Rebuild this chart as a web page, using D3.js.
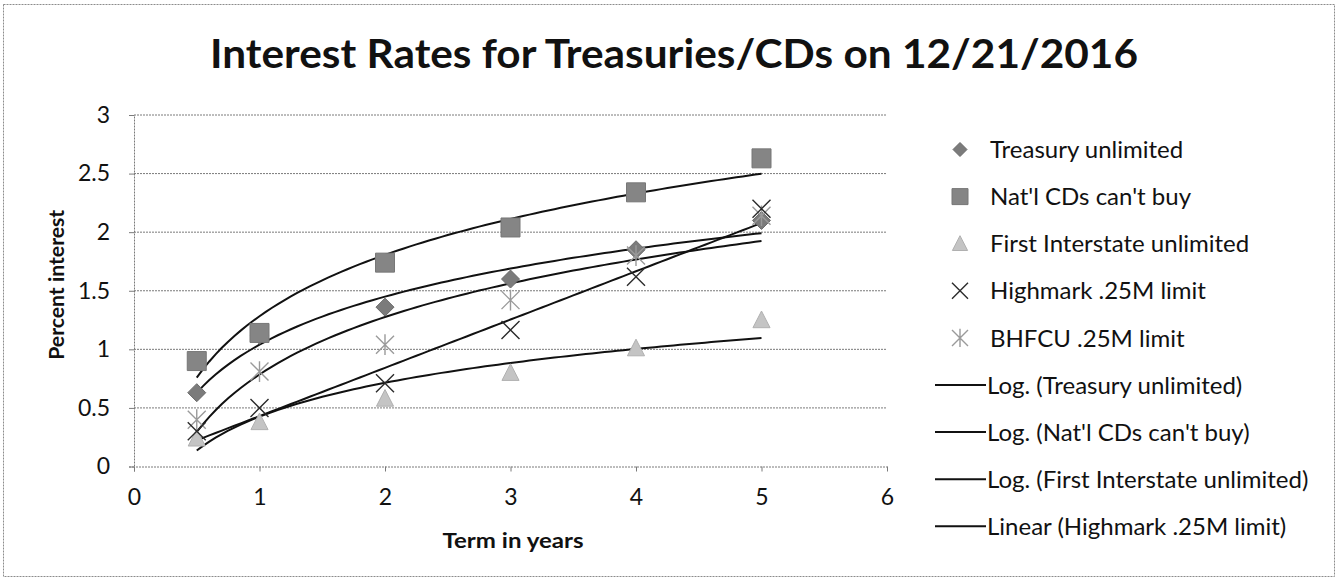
<!DOCTYPE html>
<html>
<head>
<meta charset="utf-8">
<script src="https://cdn.jsdelivr.net/npm/d3@7"></script>
<style>
  html, body { margin: 0; padding: 0; background: #fff; }
  svg { display: block; font-family: Lato, "Open Sans", sans-serif; }
</style>
</head>
<body>
<svg id="chart" width="1338" height="586"></svg>
<script>
// Term (years) and quoted rates (percent) for each product
const terms = [0.5, 1, 2, 3, 4, 5];
const treasuryUnlimited = [0.63, 1.12, 1.36, 1.60, 1.85, 2.10];
const natlCDs = [0.90, 1.14, 1.74, 2.04, 2.34, 2.63];
const firstInterstate = [0.24, 0.38, 0.58, 0.80, 1.01, 1.25];
const highmark = [0.30, 0.50, 0.71, 1.165, 1.62, 2.20];
const bhfcu = [0.40, 0.81, 1.04, 1.42, 1.80, 2.14];

const xTicks = [0, 1, 2, 3, 4, 5, 6];
const yTicks = [0, 0.5, 1, 1.5, 2, 2.5, 3];

const seriesNames = [
  "Treasury unlimited",
  "Nat'l CDs can't buy",
  "First Interstate unlimited",
  "Highmark .25M limit",
  "BHFCU .25M limit"
];
const trendLabels = [
  "Log. (Treasury unlimited)",
  "Log. (Nat'l CDs can't buy)",
  "Log. (First Interstate unlimited)",
  "Linear (Highmark .25M limit)"
];

const svg = d3.select("#chart");
const W = 1338, H = 586;
const plot = { left: 134, right: 887, top: 115, bottom: 466.5 };

const x = d3.scaleLinear().domain([0, 6]).range([plot.left, plot.right]);
const y = d3.scaleLinear().domain([0, 3]).range([plot.bottom, plot.top]);

// Outer chart border
svg.append("rect")
  .attr("x", 3.5).attr("y", 4.5).attr("width", W - 7).attr("height", H - 14)
  .attr("fill", "none").attr("stroke", "#8c8c8c").attr("stroke-width", 1)
  .attr("stroke-dasharray", "2,1");

// Title
svg.append("text")
  .attr("x", 674).attr("y", 68)
  .attr("text-anchor", "middle")
  .attr("font-size", 40).attr("font-weight", "bold")
  .attr("textLength", 928).attr("lengthAdjust", "spacingAndGlyphs")
  .attr("fill", "#111")
  .text("Interest Rates for Treasuries/CDs on 12/21/2016");

// Horizontal gridlines
svg.append("g").selectAll("line")
  .data(yTicks.filter(d => d > 0))
  .join("line")
  .attr("x1", plot.left).attr("x2", plot.right)
  .attr("y1", d => y(d)).attr("y2", d => y(d))
  .attr("stroke", "#7a7a7a").attr("stroke-width", 1)
  .attr("stroke-dasharray", "2,1");

// Axes
const xAxis = svg.append("g")
  .attr("transform", `translate(0,${plot.bottom})`)
  .call(d3.axisBottom(x).tickValues(xTicks).tickSize(5).tickPadding(17).tickFormat(d3.format("d")));
const yAxis = svg.append("g")
  .attr("transform", `translate(${plot.left},0)`)
  .call(d3.axisLeft(y).tickValues(yTicks).tickSize(5).tickPadding(19).tickFormat(d => String(d)));

[xAxis, yAxis].forEach(a => {
  a.select(".domain").attr("stroke", "#7a7a7a").attr("stroke-dasharray", "2,1");
  a.selectAll(".tick line").attr("stroke", "#7a7a7a");
  a.selectAll(".tick text")
    .attr("font-family", "Lato, 'Open Sans', sans-serif")
    .attr("font-size", 23).attr("fill", "#111");
});

// Axis titles
svg.append("text")
  .attr("x", 513).attr("y", 548)
  .attr("text-anchor", "middle").attr("font-size", 21).attr("font-weight", "bold")
  .attr("textLength", 141).attr("lengthAdjust", "spacingAndGlyphs")
  .attr("fill", "#111").text("Term in years");
svg.append("text")
  .attr("transform", `translate(64,${(plot.top + plot.bottom) / 2 - 6}) rotate(-90)`)
  .attr("text-anchor", "middle").attr("font-size", 21).attr("font-weight", "bold")
  .attr("textLength", 150).attr("lengthAdjust", "spacingAndGlyphs")
  .attr("fill", "#111").text("Percent interest");

// Least-squares trendlines (logarithmic or linear) fitted to each series
function fit(values, logX) {
  const xs = terms.map(t => logX ? Math.log(t) : t);
  const mx = d3.mean(xs), my = d3.mean(values);
  let sxy = 0, sxx = 0;
  xs.forEach((v, i) => { sxy += (v - mx) * (values[i] - my); sxx += (v - mx) * (v - mx); });
  const b = sxy / sxx, a = my - b * mx;
  return t => a + b * (logX ? Math.log(t) : t);
}
const trends = [
  { values: treasuryUnlimited, log: true },
  { values: natlCDs, log: true },
  { values: firstInterstate, log: true },
  { values: highmark, log: false },
  { values: bhfcu, log: true }
];
const sampleX = d3.range(0, 91).map(i => 0.5 + i * 0.05);
const line = d3.line().x(d => x(d[0])).y(d => y(d[1]));
svg.append("g").selectAll("path")
  .data(trends)
  .join("path")
  .attr("d", tr => { const f = fit(tr.values, tr.log); return line(sampleX.map(t => [t, f(t)])); })
  .attr("fill", "none").attr("stroke", "#111").attr("stroke-width", 2);

// Marker shapes
const diamondPath = s => `M0,${-s}L${s},0L0,${s}L${-s},0Z`;
const squarePath = s => `M${-s},${-s}H${s}V${s}H${-s}Z`;
const trianglePath = s => `M0,${-s}L${s * 0.95},${s * 0.85}H${-s * 0.95}Z`;
const crossPath = s => `M${-s},${-s}L${s},${s}M${s},${-s}L${-s},${s}`;
const starPath = s => `M${-s},${-s}L${s},${s}M${s},${-s}L${-s},${s}M0,${-s * 1.15}V${s * 1.15}`;

const markerStyles = [
  { path: diamondPath, size: 9, legendSize: 7, fill: "#7b7b7b", stroke: "#6a6a6a", sw: 1 },
  { path: squarePath, size: 9.5, legendSize: 8, fill: "#858585", stroke: "#777", sw: 1 },
  { path: trianglePath, size: 9, legendSize: 8, fill: "#c4c4c4", stroke: "#b0b0b0", sw: 1 },
  { path: crossPath, size: 9, legendSize: 8, fill: "none", stroke: "#2a2a2a", sw: 1.4 },
  { path: starPath, size: 9, legendSize: 8, fill: "none", stroke: "#9a9a9a", sw: 1.4 }
];
const seriesValues = [treasuryUnlimited, natlCDs, firstInterstate, highmark, bhfcu];

// Draw order: treasury, triangles, BHFCU, Highmark, squares on top
const drawOrder = [0, 2, 4, 3, 1];
drawOrder.forEach(si => {
  const st = markerStyles[si];
  svg.append("g").selectAll("path")
    .data(terms.map((t, i) => [t, seriesValues[si][i]]))
    .join("path")
    .attr("transform", d => `translate(${x(d[0])},${y(d[1])})`)
    .attr("d", st.path(st.size))
    .attr("fill", st.fill).attr("stroke", st.stroke).attr("stroke-width", st.sw);
});

// Legend
const legendTop = 149.5, legendStep = 47.1;
const legend = svg.append("g");
seriesNames.forEach((name, i) => {
  const st = markerStyles[i];
  const cy = legendTop + i * legendStep;
  legend.append("path")
    .attr("transform", `translate(960,${cy})`)
    .attr("d", st.path(st.legendSize))
    .attr("fill", st.fill).attr("stroke", st.stroke).attr("stroke-width", st.sw);
  legend.append("text")
    .attr("x", 990).attr("y", cy).attr("dy", "0.36em")
    .attr("font-size", 24).attr("fill", "#111").text(name);
});
trendLabels.forEach((name, i) => {
  const cy = legendTop + (seriesNames.length + i) * legendStep;
  legend.append("line")
    .attr("x1", 935).attr("x2", 986).attr("y1", cy).attr("y2", cy)
    .attr("stroke", "#111").attr("stroke-width", 2);
  legend.append("text")
    .attr("x", 987).attr("y", cy).attr("dy", "0.36em")
    .attr("font-size", 24).attr("fill", "#111").text(name);
});
</script>
</body>
</html>
